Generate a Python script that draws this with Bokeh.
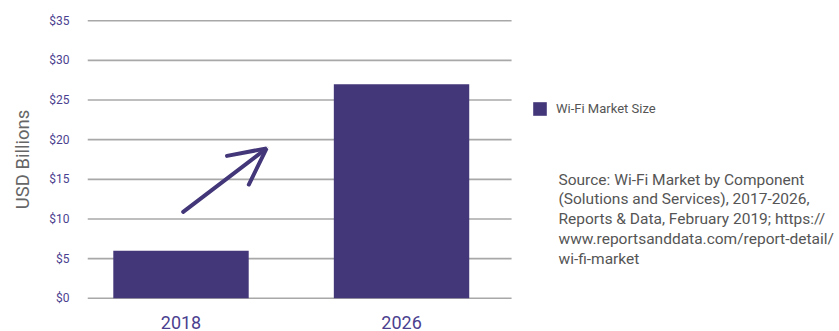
import math
from bokeh.plotting import figure
from bokeh.models import (ColumnDataSource, FixedTicker, NumeralTickFormatter, Label,
                          Legend, LegendItem, Arrow, OpenHead, Range1d)
from bokeh.embed import file_html
from bokeh.resources import INLINE

# ---- data ----
categories = ["2018", "2026"]
market_size = [6.0, 27.0]          # USD billions
y_ticks = [0, 5, 10, 15, 20, 25, 30, 35]
series_name = "Wi-Fi Market Size"
source_note = ("Source: Wi-Fi Market by Component\n"
               "(Solutions and Services), 2017-2026,\n"
               "Reports & Data, February 2019; https://\n"
               "www.reportsanddata.com/report-detail/\n"
               "wi-fi-market")

BAR = "#433679"
TICK = "#4b3f8f"
GRAY = "#555555"
FONT = "Roboto"

xs = list(range(len(categories)))
src = ColumnDataSource(dict(x=xs, top=market_size, cat=categories))

X0, X1 = -0.424, 1.499   # extent of the bar area (grid lines)

p = figure(width=839, height=331, output_backend="svg", toolbar_location=None,
           x_range=Range1d(X0, 2.986), y_range=Range1d(-0.15, 35.15),
           min_border_left=87, min_border_right=0, min_border_top=19,
           min_border_bottom=31)
p.outline_line_color = None
p.background_fill_color = "white"
p.border_fill_color = "white"

# horizontal grid lines limited to the bar area
grid_src = ColumnDataSource(dict(y=y_ticks, x0=[X0] * len(y_ticks), x1=[X1] * len(y_ticks)))
p.segment(x0="x0", x1="x1", y0="y", y1="y", source=grid_src,
          line_color="#a8a8a8", line_width=1.6)

r = p.vbar(x="x", top="top", width=0.614, bottom=0, source=src,
           fill_color=BAR, line_color=None)

# axes
p.xaxis.ticker = FixedTicker(ticks=xs)
p.xaxis.major_label_overrides = {i: c for i, c in zip(xs, categories)}
p.xaxis.axis_line_color = None
p.xaxis.major_tick_line_color = None
p.xaxis.minor_tick_line_color = None
p.xaxis.major_label_text_font = FONT
p.xaxis.major_label_text_font_size = "18px"
p.xaxis.major_label_text_color = TICK
p.xaxis.major_label_standoff = 10

p.yaxis.ticker = FixedTicker(ticks=y_ticks)
p.yaxis.formatter = NumeralTickFormatter(format="$0")
p.yaxis.axis_line_color = None
p.yaxis.major_tick_line_color = None
p.yaxis.minor_tick_line_color = None
p.yaxis.major_label_text_font = FONT
p.yaxis.major_label_text_font_size = "12px"
p.yaxis.major_label_text_color = TICK
p.yaxis.major_label_standoff = 12
p.yaxis.axis_label = "USD Billions"
p.yaxis.axis_label_text_font = FONT
p.yaxis.axis_label_text_font_size = "18.5px"
p.yaxis.axis_label_text_font_style = "normal"
p.yaxis.axis_label_text_color = "#666666"
p.yaxis.axis_label_standoff = 12

p.xgrid.grid_line_color = None
p.ygrid.grid_line_color = None

# arrow decoration
p.add_layout(Arrow(x_start=0.01, y_start=10.9, x_end=0.388, y_end=18.9,
                   line_color=BAR, line_width=4, line_cap="round",
                   end=OpenHead(size=36, line_color=BAR, line_width=4, line_cap="round")))

# legend
legend = Legend(items=[LegendItem(label=series_name, renderers=[r])],
                location=(444, 182), glyph_width=17, glyph_height=17,
                padding=0, margin=0, label_standoff=8, border_line_alpha=0,
                background_fill_alpha=0, label_text_font=FONT,
                label_text_font_size="13px", label_text_color=GRAY)
p.add_layout(legend, "center")

# source note
p.add_layout(Label(x=471, y=129, x_units="screen", y_units="screen",
                   text=source_note, text_align="left", text_baseline="top",
                   text_font=FONT, text_font_size="15.5px", text_color=GRAY,
                   text_line_height=1.1))

open("out.html", "w").write(file_html(p, INLINE))
